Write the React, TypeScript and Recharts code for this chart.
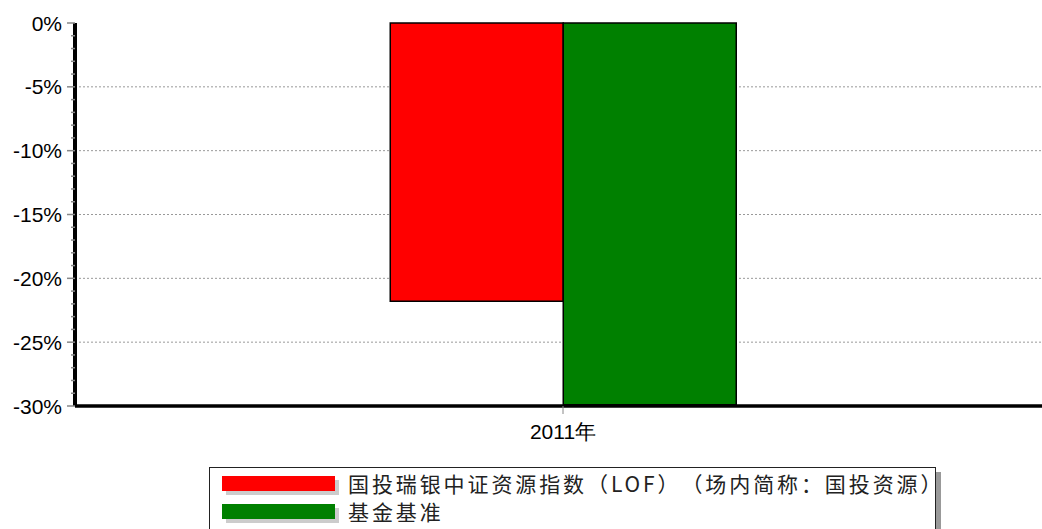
import { Bar, BarChart, CartesianGrid, XAxis, YAxis } from "recharts";

const years = ["2011年"];
const fundReturns = [-21.8];
const benchmarkReturns = [-29.9];
const yTicks = [
  0, -1, -2, -3, -4, -5, -6, -7, -8, -9, -10, -11, -12, -13, -14, -15, -16, -17, -18, -19, -20, -21,
  -22, -23, -24, -25, -26, -27, -28, -29, -30,
];
const gridValues = [-5, -10, -15, -20, -25];
const seriesNames = ["国投瑞银中证资源指数（LOF）（场内简称：国投资源）", "基金基准"];
const seriesColors = ["#ff0000", "#008000"];

const data = years.map((year, i) => ({
  year,
  fund: fundReturns[i],
  bench: benchmarkReturns[i],
}));

const fontFamily = "'Liberation Sans', Arial, sans-serif";
const tickFont = { fontSize: 21, fill: "#000", fontFamily };

// major ticks every 5% get a label and a longer mark, the rest a short mark
function YTick(props: any) {
  const { x, y, payload } = props;
  const v = payload.value as number;
  const major = v % 5 === 0;
  return (
    <g>
      <line x1={x - (major ? 8 : 4)} x2={x} y1={y} y2={y} stroke="#888" strokeWidth={1.5} />
      {major && (
        <text x={x - 13} y={y} dy="0.36em" textAnchor="end" fontSize={21} fill="#000" fontFamily={fontFamily}>
          {`${v}%`}
        </text>
      )}
    </g>
  );
}

export default function App() {
  return (
    <div
      style={{
        position: "absolute",
        left: 0,
        top: 0,
        width: 1042,
        height: 529,
        overflow: "hidden",
        background: "#fff",
      }}
    >
      <BarChart
        width={1060}
        height={460}
        data={data}
        margin={{ top: 23, right: 9, left: 0, bottom: 20 }}
        barCategoryGap="32.3%"
        barGap={0}
      >
        <CartesianGrid
          vertical={false}
          horizontalValues={gridValues}
          stroke="#999"
          strokeDasharray="2 2"
        />
        <XAxis
          dataKey="year"
          height={34}
          tick={tickFont}
          tickSize={8}
          tickMargin={10}
          tickLine={{ stroke: "#888" }}
          axisLine={{ stroke: "#000", strokeWidth: 3.5 }}
        />
        <YAxis
          width={75}
          domain={[-30, 0]}
          ticks={yTicks}
          interval={0}
          tick={YTick}
          tickSize={0}
          tickMargin={0}
          tickLine={false}
          axisLine={{ stroke: "#000", strokeWidth: 4 }}
        />
        <Bar
          dataKey="fund"
          name={seriesNames[0]}
          fill={seriesColors[0]}
          stroke="#000"
          strokeWidth={1.5}
          isAnimationActive={false}
        />
        <Bar
          dataKey="bench"
          name={seriesNames[1]}
          fill={seriesColors[1]}
          stroke="#000"
          strokeWidth={1.5}
          isAnimationActive={false}
        />
      </BarChart>
      <div
        style={{
          position: "absolute",
          left: 209,
          top: 467,
          width: 725,
          height: 70,
          border: "1.5px solid #222",
          boxShadow: "5px 5px 0 #999",
          background: "#fff",
          fontFamily: "'Noto Sans CJK SC', sans-serif",
          fontSize: 21,
          color: "#222",
        }}
      >
        {seriesNames.map((name, i) => (
          <div
            key={name}
            style={{
              position: "absolute",
              left: 12,
              top: 1 + i * 28,
              display: "flex",
              alignItems: "center",
              height: 28,
            }}
          >
            <div
              style={{
                width: 113,
                height: 15,
                background: seriesColors[i],
                boxShadow: "4px 4px 0 #ccc",
                marginRight: 13,
                flexShrink: 0,
              }}
            />
            <div
              style={{
                whiteSpace: "nowrap",
                height: 28,
                lineHeight: "28px",
                letterSpacing: 2.9,
                textSpacingTrim: "space-all",
              } as React.CSSProperties}
            >
              {name}
            </div>
          </div>
        ))}
      </div>
    </div>
  );
}
